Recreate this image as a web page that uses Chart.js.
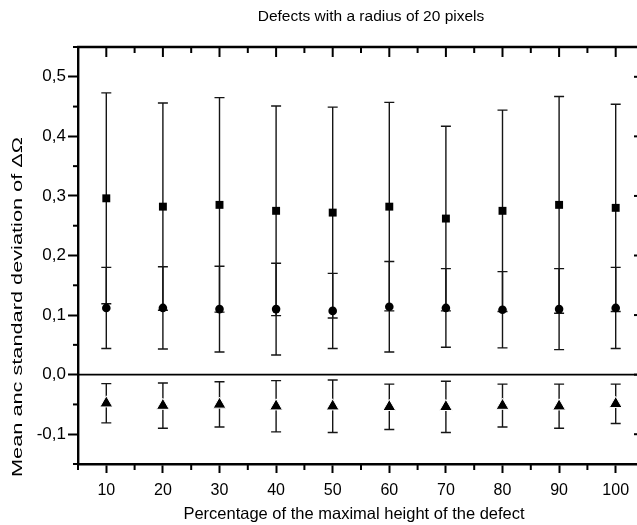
<!DOCTYPE html>
<html><head><meta charset="utf-8">
<script src="https://cdn.jsdelivr.net/npm/chart.js@4/dist/chart.umd.min.js"></script>
<style>
html,body{margin:0;padding:0;background:#fff;overflow:hidden;}
#wrap{width:637px;height:525px;overflow:hidden;position:relative;background:#fff;}
canvas{display:block;}
</style></head><body>
<div id="wrap"><canvas id="c" width="740" height="525" style="width:740px;height:525px"></canvas></div>
<script>
// ---- data ----
const percentages = [10, 20, 30, 40, 50, 60, 70, 80, 90, 100];
const squareMean = [0.296, 0.282, 0.285, 0.275, 0.272, 0.282, 0.262, 0.275, 0.285, 0.280];
const squareStd  = [0.177, 0.174, 0.180, 0.176, 0.177, 0.175, 0.155, 0.169, 0.182, 0.174];
const circleMean = [0.112, 0.112, 0.110, 0.110, 0.107, 0.114, 0.112, 0.109, 0.110, 0.112];
const circleStd  = [0.068, 0.069, 0.072, 0.077, 0.063, 0.076, 0.066, 0.064, 0.068, 0.068];
const triangleMean = [-0.048, -0.052, -0.050, -0.053, -0.053, -0.054, -0.054, -0.052, -0.053, -0.049];
const triangleStd  = [0.033, 0.038, 0.038, 0.043, 0.044, 0.038, 0.043, 0.036, 0.037, 0.033];
const xTickValues = [10, 20, 30, 40, 50, 60, 70, 80, 90, 100];
const xTickLabels = ['10', '20', '30', '40', '50', '60', '70', '80', '90', '100'];
const yTickValues = [-0.1, 0, 0.1, 0.2, 0.3, 0.4, 0.5];
const yTickLabels = ['-0,1', '0,0', '0,1', '0,2', '0,3', '0,4', '0,5'];
const chartTitle = 'Defects with a radius of 20 pixels';
const xTitle = 'Percentage of the maximal height of the defect';
const yTitle = 'Mean anc standard deviation of \u0394\u03A9';

const FONT = '"Liberation Sans", Arial, Helvetica, sans-serif';

function pts(means) { return percentages.map((p, i) => ({ x: p, y: means[i] })); }

const errorBars = {
  id: 'errorBars',
  beforeDatasetsDraw(chart) {
    const ctx = chart.ctx, ys = chart.scales.y;
    chart.data.datasets.forEach((ds, i) => {
      const meta = chart.getDatasetMeta(i);
      meta.data.forEach((pt, j) => {
        const m = ds.data[j].y, s = ds.errors[j];
        const yt = ys.getPixelForValue(m + s), yb = ys.getPixelForValue(m - s);
        ctx.save();
        ctx.strokeStyle = '#151515';
        ctx.lineWidth = 1.4;
        ctx.beginPath();
        ctx.moveTo(pt.x, yt); ctx.lineTo(pt.x, yb);
        ctx.moveTo(pt.x - 5, yt); ctx.lineTo(pt.x + 5, yt);
        ctx.moveTo(pt.x - 5, yb); ctx.lineTo(pt.x + 5, yb);
        ctx.stroke();
        ctx.restore();
      });
    });
  }
};

const frame = {
  id: 'frame',
  beforeDatasetsDraw(chart) {
    const { ctx, chartArea: a, scales: { y } } = chart;
    ctx.save();
    ctx.strokeStyle = '#000';
    ctx.lineWidth = 1.6;
    ctx.beginPath();
    const y0 = y.getPixelForValue(0);
    ctx.moveTo(a.left, y0); ctx.lineTo(a.right, y0);
    ctx.stroke();
    ctx.restore();
  },
  afterDraw(chart) {
    const { ctx, chartArea: a, scales: { x, y } } = chart;
    const line = (x1, y1, x2, y2) => { ctx.beginPath(); ctx.moveTo(x1, y1); ctx.lineTo(x2, y2); ctx.stroke(); };
    ctx.save();
    ctx.strokeStyle = '#000';
    ctx.lineWidth = 2.4;
    line(a.left - 1, a.top, a.right + 1, a.top);
    line(a.right, a.top, a.right, a.bottom);
    ctx.lineWidth = 2;
    for (let k = 0; k <= 20; k++) {
      const v = x.min + k * 5;
      const px = x.getPixelForValue(v);
      const major = k % 2 === 1;
      line(px, a.top, px, a.top + (major ? 10 : 6));
      if (!major) line(px, a.bottom, px, a.bottom + 6);
    }
    for (let k = 0; k <= 14; k++) {
      const v = y.min + k * 0.05;
      const py = y.getPixelForValue(v);
      const major = k % 2 === 1;
      line(a.right, py, a.right - (major ? 10 : 6), py);
      if (!major) line(a.left - 5, py, a.left, py);
    }
    // titles
    ctx.fillStyle = '#000';
    ctx.textAlign = 'center';
    ctx.textBaseline = 'middle';
    ctx.font = '15.5px ' + FONT;
    ctx.fillText(chartTitle, 371, 17);
    ctx.font = '16.5px ' + FONT;
    ctx.fillText(xTitle, 354, 514);
    ctx.save();
    ctx.translate(18, 307);
    ctx.rotate(-Math.PI / 2);
    ctx.font = '15px ' + FONT;
    const w = ctx.measureText(yTitle).width;
    ctx.scale(340 / w, 1);
    ctx.fillText(yTitle, 0, 0);
    ctx.restore();
    ctx.restore();
  }
};

new Chart(document.getElementById('c'), {
  type: 'scatter',
  data: {
    datasets: [
      { label: 'Squares', data: pts(squareMean), errors: squareStd,
        pointStyle: 'rect', pointRadius: 5.6, pointBackgroundColor: '#000', pointBorderWidth: 0, showLine: false },
      { label: 'Circles', data: pts(circleMean), errors: circleStd,
        pointStyle: 'circle', pointRadius: 4.3, pointBackgroundColor: '#000', pointBorderWidth: 0, showLine: false },
      { label: 'Triangles', data: pts(triangleMean), errors: triangleStd,
        pointStyle: 'triangle', pointRadius: 7.4, pointBackgroundColor: '#000', pointBorderColor: '#fff', pointBorderWidth: 1, showLine: false }
    ]
  },
  options: {
    responsive: false,
    animation: false,
    events: [],
    layout: { padding: { top: 47, right: 96, left: 0, bottom: 0 } },
    plugins: {
      legend: { display: false },
      tooltip: { enabled: false },
      title: { display: false }
    },
    scales: {
      x: {
        type: 'linear', min: 5, max: 105,
        afterFit(s) { s.height = 61; },
        afterBuildTicks(s) { s.ticks = xTickValues.map(v => ({ value: v })); },
        border: { display: true, width: 2.4, color: '#000' },
        grid: { display: true, drawOnChartArea: false, drawTicks: true, tickLength: 9, tickWidth: 2, tickColor: '#000' },
        ticks: { color: '#000', padding: 8, maxRotation: 0, autoSkip: false,
          font: { family: FONT, size: 16 },
          callback: (v) => { const i = xTickValues.indexOf(Math.round(v)); return i >= 0 ? xTickLabels[i] : ''; } }
      },
      y: {
        type: 'linear', min: -0.15, max: 0.55,
        afterFit(s) { s.width = 78; },
        afterBuildTicks(s) { s.ticks = yTickValues.map(v => ({ value: v })); },
        border: { display: true, width: 2.4, color: '#000' },
        grid: { display: true, drawOnChartArea: false, drawTicks: true, tickLength: 10, tickWidth: 2, tickColor: '#000' },
        ticks: { color: '#000', padding: 2, autoSkip: false,
          font: { family: FONT, size: 17 },
          callback: (v) => { const i = yTickValues.findIndex(t => Math.abs(t - v) < 1e-6); return i >= 0 ? yTickLabels[i] : ''; } }
      }
    }
  },
  plugins: [errorBars, frame]
});
</script>
</body></html>
